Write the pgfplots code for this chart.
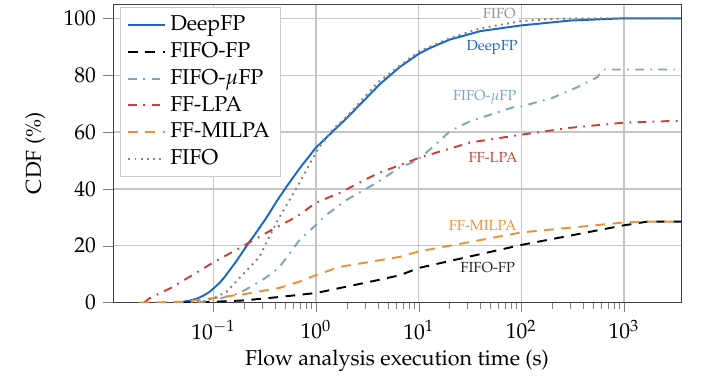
\documentclass[border=0pt]{standalone}
\usepackage[T1]{fontenc}
\usepackage{mathpazo}
\usepackage{pgfplots}
\pgfplotsset{compat=1.18}
\usetikzlibrary{calc}
\definecolor{cDeep}{RGB}{25,103,200}
\definecolor{cMu}{RGB}{125,165,190}
\definecolor{cLPA}{RGB}{200,65,55}
\definecolor{cMIL}{RGB}{235,145,55}
\definecolor{cFIFO}{RGB}{130,130,130}
\begin{document}
\begin{tikzpicture}
\begin{semilogxaxis}[name=ax, scale only axis, width=264.2pt, height=138.9pt,
  xmin=0.0105, xmax=3600, ymin=0, ymax=105,
  xtick={0.1,1,10,100,1000}, ytick={0,20,40,60,80,100},
  grid=major, major grid style={gray!45, line width=0.6pt},
  tick align=outside, tick pos=left, major tick length=4.5pt, minor tick length=3pt,
  axis line style={black!75},
  xlabel={Flow analysis execution time (s)}, ylabel={CDF (\%)},
  xlabel style={yshift=2pt},
  ylabel style={at={(axis description cs:-0.137,0.5)}, anchor=center},
  legend cell align=left,
  legend style={at={(axis description cs:0.013,0.99)}, anchor=north west, draw=gray!40, fill=white, font=\fontsize{10}{12}\selectfont},
  every axis plot/.append style={line width=0.9pt},
]
\addplot[cDeep, solid] coordinates {
(0.04,0) (0.05,0.3) (0.06,0.8) (0.07,1.5) (0.08,2.5) (0.09,3.6) (0.1,5) (0.115,7) (0.13,9.3) (0.15,12.3) (0.17,15) (0.2,18.8) (0.224,21.4) (0.25,23.7) (0.28,26.3) (0.33,30) (0.41,35.5) (0.515,40.8) (0.7,47.5) (1.0,54.6) (1.36,59.2) (2,65) (3,71.5) (4.17,76.8) (6.5,82.8) (10,87.5) (12.8,89.5) (20,92.5) (40,95.5) (100,97.5) (300,99.2) (1000,100) (3600,100)};
\addlegendentry{DeepFP}
\addplot[black, dash pattern=on 4.5pt off 3.5pt] coordinates {
(0.05,0) (0.1,0.3) (0.2,0.8) (0.44,2) (1,3.4) (3.3,7.3) (6.5,9.6) (10,12.2) (100,20.3) (1000,27.2) (1700,28.5) (3600,28.5)};
\addlegendentry{FIFO-FP}
\addplot[cMu, dash pattern=on 4pt off 3pt on 0.8pt off 3pt] coordinates {
(0.07,0) (0.1,0.8) (0.18,3.4) (0.30,8) (0.377,10.5) (0.44,12.6) (0.69,22) (1.0,27.4) (1.26,30.9) (2,36.2) (3.9,42.2) (6.5,47.5) (9.6,50) (14,55) (20,60.2) (31.6,63.8) (83,68.7) (100,69) (200,72) (348,75.7) (550,79.3) (630,82) (1000,82) (3600,82)};
\addlegendentry{FIFO-$\mu$FP}
\addplot[cLPA, dash pattern=on 4pt off 3pt on 0.8pt off 3pt] coordinates {
(0.021,0) (0.024,1.6) (0.04,5.5) (0.098,14) (0.167,18.6) (0.33,24.6) (0.42,26.7) (0.645,30.2) (1,35.2) (1.7,38.6) (3.3,44) (4.17,45.7) (10.2,51) (31.6,56.3) (97,59) (300,61.5) (1000,63.3) (3600,64)};
\addlegendentry{FF-LPA}
\addplot[cMIL, dash pattern=on 4.5pt off 3.5pt] coordinates {
(0.019,0) (0.05,0.3) (0.1,1.6) (0.2,3) (0.44,5.2) (0.7,7.5) (1.0,9.7) (1.7,12.6) (3.3,14.3) (6.5,16.1) (10,18) (100,24.7) (1000,28.2) (1500,28.5) (3600,28.5)};
\addlegendentry{FF-MILPA}
\addplot[cFIFO, dotted] coordinates {
(0.06,0) (0.08,0.5) (0.1,1.5) (0.134,3.8) (0.2,10.5) (0.28,16.1) (0.35,23.2) (0.42,28.8) (0.5,33.5) (0.69,42.2) (1.035,53.9) (1.45,60.9) (2,65.5) (4,77.5) (10,88.3) (20,93) (40,96.5) (100,99) (200,99.8) (400,100) (3600,100)};
\addlegendentry{FIFO}
\node[font=\fontsize{6.8}{8}\selectfont, text=cFIFO!85, fill=white, inner sep=1pt] at (axis cs:61,101.5) {FIFO};
\node[font=\fontsize{6.8}{8}\selectfont, text=cDeep] at (axis cs:52,89.9) {DeepFP};
\node[font=\fontsize{6.8}{8}\selectfont, text=cMu] at (axis cs:44,72) {FIFO-$\mu$FP};
\node[font=\fontsize{6.8}{8}\selectfont, text=cLPA] at (axis cs:53,51) {FF-LPA};
\node[font=\fontsize{6.8}{8}\selectfont, text=cMIL] at (axis cs:42,27) {FF-MILPA};
\node[font=\fontsize{6.8}{8}\selectfont, text=black!85] at (axis cs:47,12.2) {FIFO-FP};
\end{semilogxaxis}
\path ($(ax.south west)+(-52.6pt,-31.8pt)$) rectangle ($(ax.north east)+(9.3pt,1.9pt)$);
\end{tikzpicture}
\end{document}
